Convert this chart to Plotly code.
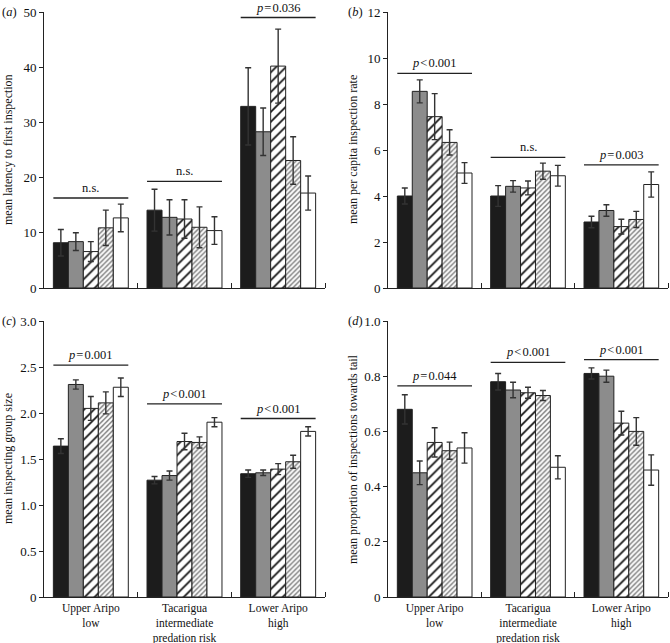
import plotly.graph_objects as go
from plotly.subplots import make_subplots

# groups (sites / predation regime)
groups = ["Upper Aripo<br>low", "Tacarigua<br>intermediate<br>predation risk", "Lower Aripo<br>high"]
treatments = ["treatment 1", "treatment 2", "treatment 3", "treatment 4", "treatment 5"]

# (a) mean latency to first inspection, one list per treatment (values across the 3 groups)
latency = [[8.2, 14.1, 32.9], [8.4, 12.8, 28.3], [6.6, 12.5, 40.2], [10.9, 11.0, 23.1], [12.7, 10.4, 17.2]]
latency_err = [[2.4, 3.8, 7.0], [1.6, 3.2, 4.3], [1.8, 3.5, 6.7], [3.2, 3.7, 4.3], [2.5, 2.5, 3.1]]
latency_sig = [16.3, 19.3, 49.0]
latency_sig_txt = ["n.s.", "n.s.", "<i>p</i>\u200a=\u200a0.036"]

# (b) mean per capita inspection rate
rate = [[4.0, 4.0, 2.87], [8.55, 4.42, 3.37], [7.45, 4.35, 2.67], [6.33, 5.08, 2.98], [5.0, 4.88, 4.5]]
rate_err = [[0.35, 0.45, 0.25], [0.5, 0.25, 0.25], [1.0, 0.3, 0.32], [0.55, 0.35, 0.35], [0.45, 0.45, 0.55]]
rate_sig = [9.33, 5.68, 5.35]
rate_sig_txt = ["<i>p</i>\u200a<\u200a0.001", "n.s.", "<i>p</i>\u200a=\u200a0.003"]

# (c) mean inspecting group size
gsize = [[1.64, 1.27, 1.34], [2.31, 1.32, 1.35], [2.05, 1.69, 1.39], [2.11, 1.68, 1.47], [2.28, 1.90, 1.80]]
gsize_err = [[0.08, 0.04, 0.04], [0.05, 0.05, 0.03], [0.13, 0.09, 0.06], [0.12, 0.06, 0.07], [0.10, 0.05, 0.05]]
gsize_sig = [2.52, 2.10, 1.94]
gsize_sig_txt = ["<i>p</i>\u200a=\u200a0.001", "<i>p</i>\u200a<\u200a0.001", "<i>p</i>\u200a<\u200a0.001"]

# (d) mean proportion of inspections towards tail
tail = [[0.68, 0.78, 0.81], [0.45, 0.75, 0.80], [0.56, 0.74, 0.63], [0.53, 0.73, 0.60], [0.54, 0.47, 0.46]]
tail_err = [[0.053, 0.03, 0.02], [0.043, 0.028, 0.022], [0.053, 0.02, 0.043], [0.031, 0.018, 0.05], [0.055, 0.042, 0.055]]
tail_sig = [0.765, 0.85, 0.86]
tail_sig_txt = ["<i>p</i>\u200a=\u200a0.044", "<i>p</i>\u200a<\u200a0.001", "<i>p</i>\u200a<\u200a0.001"]

FONT = "Liberation Serif"
INK = "#222222"
W, H = 670, 643
BARGAP = 0.2

fills = [
    dict(color="#1c1c1c"),
    dict(color="#8c8c8c"),
    dict(color="white", pattern=dict(shape="/", size=7, solidity=0.25, fgcolor="#111111", bgcolor="white")),
    dict(color="white", pattern=dict(shape="/", size=3.5, solidity=0.35, fgcolor="#666666", bgcolor="white")),
    dict(color="white"),
]

panels = [
    dict(row=1, col=1, vals=latency, err=latency_err, sig=latency_sig, sig_txt=latency_sig_txt,
         title="mean latency to first inspection", letter="a",
         tickvals=[0, 10, 20, 30, 40, 50], ticktext=["0", "10", "20", "30", "40", "50"]),
    dict(row=1, col=2, vals=rate, err=rate_err, sig=rate_sig, sig_txt=rate_sig_txt,
         title="mean per capita inspection rate", letter="b",
         tickvals=[0, 2, 4, 6, 8, 10, 12], ticktext=["0", "2", "4", "6", "8", "10", "12"]),
    dict(row=2, col=1, vals=gsize, err=gsize_err, sig=gsize_sig, sig_txt=gsize_sig_txt,
         title="mean inspecting group size", letter="c",
         tickvals=[0, 0.5, 1, 1.5, 2, 2.5, 3], ticktext=["0", "0.5", "1.0", "1.5", "2.0", "2.5", "3.0"]),
    dict(row=2, col=2, vals=tail, err=tail_err, sig=tail_sig, sig_txt=tail_sig_txt,
         title="mean proportion of inspections towards tail", letter="d",
         tickvals=[0, 0.2, 0.4, 0.6, 0.8, 1.0], ticktext=["0", "0.2", "0.4", "0.6", "0.8", "1.0"]),
]

# pixel boxes of the four plot areas (left, right, top, bottom)
boxes = {(1, 1): (44, 325, 12, 288), (1, 2): (388, 668, 12, 288),
         (2, 1): (44, 325, 321, 597), (2, 2): (388, 668, 321, 597)}
title_x = {(1, 1): 8, (1, 2): 353, (2, 1): 8, (2, 2): 353}
letter_x = {(1, 1): 0, (1, 2): 346, (2, 1): 0, (2, 2): 346}

fig = make_subplots(rows=2, cols=2)
xs = list(range(len(groups)))

for p in panels:
    for i, name in enumerate(treatments):
        fig.add_trace(go.Bar(
            x=xs, y=p["vals"][i], name=name, offsetgroup=str(i), showlegend=False,
            marker=dict(**fills[i], line=dict(color=INK, width=1)),
            error_y=dict(type="data", array=p["err"][i], color="#333333", thickness=1.4, width=3),
        ), row=p["row"], col=p["col"])

    l, r, t, b = boxes[(p["row"], p["col"])]
    n = (p["row"] - 1) * 2 + p["col"]
    ax = "" if n == 1 else str(n)
    fig.update_xaxes(domain=[l / W, r / W], range=[-0.5, 2.5], tickvals=xs, ticktext=groups,
                     ticks="", showline=True, linecolor=INK, linewidth=1, showgrid=False, zeroline=False,
                     showticklabels=p["row"] == 2, tickfont=dict(family=FONT, size=11.5, color="#111"),
                     minor=dict(tickmode="array", tickvals=[0.5, 1.5, 2.5], ticks="inside",
                                ticklen=5, tickcolor=INK),
                     row=p["row"], col=p["col"])
    fig.update_yaxes(domain=[1 - b / H, 1 - t / H], range=[0, p["tickvals"][-1]],
                     tickvals=p["tickvals"], ticktext=p["ticktext"], ticks="outside", ticklen=4,
                     tickcolor=INK, showline=True, linecolor=INK, linewidth=1, showgrid=False,
                     zeroline=False, tickfont=dict(family=FONT, size=13, color="#111"),
                     row=p["row"], col=p["col"])

    half = (1 - BARGAP) / 2
    for g, (yv, txt) in enumerate(zip(p["sig"], p["sig_txt"])):
        fig.add_shape(type="line", x0=g - half, x1=g + half, y0=yv, y1=yv,
                      xref="x" + ax, yref="y" + ax, line=dict(color=INK, width=1.3))
        fig.add_annotation(x=g, y=yv, xref="x" + ax, yref="y" + ax, text=txt, showarrow=False,
                           yanchor="bottom", yshift=1, font=dict(family=FONT, size=12.5, color="#111"))

    fig.add_annotation(x=title_x[(p["row"], p["col"])] / W, y=1 - (t + b) / 2 / H,
                       xref="paper", yref="paper", text=p["title"], textangle=-90, showarrow=False,
                       xanchor="center", yanchor="middle",
                       font=dict(family=FONT, size=12, color="#111"))
    fig.add_annotation(x=letter_x[(p["row"], p["col"])] / W, y=1 - t / H, xref="paper", yref="paper",
                       text="(<i>" + p["letter"] + "</i>)", showarrow=False, xanchor="left",
                       yanchor="middle", font=dict(family=FONT, size=12.5, color="#111"))

fig.update_layout(
    width=W, height=H, template="none", barmode="group", bargap=BARGAP, bargroupgap=0,
    margin=dict(l=0, r=0, t=0, b=0), paper_bgcolor="white", plot_bgcolor="white",
    font=dict(family=FONT, color="#111"), showlegend=False,
)

# the page body has a default 8px margin; drop it so the figure fills the window
fig.write_html("out.html", config={"displayModeBar": False},
               post_script="document.body.style.margin='0';")
